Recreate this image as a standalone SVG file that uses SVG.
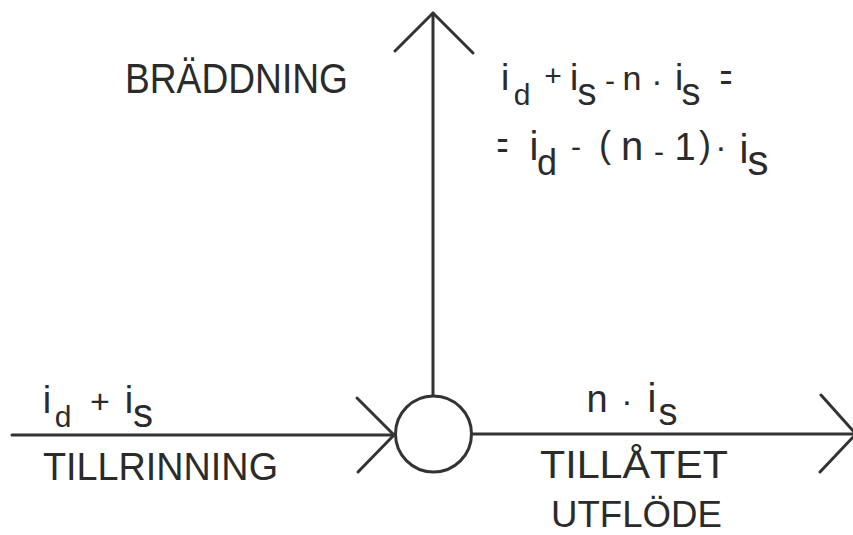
<svg xmlns="http://www.w3.org/2000/svg" width="853" height="535" viewBox="0 0 853 535">
<style>
.ln{fill:none;stroke:#333;stroke-width:3;stroke-linecap:round;stroke-linejoin:round}
text{font-family:"Liberation Sans",Arial,sans-serif;fill:#2b2b2b}
.c{text-anchor:middle}
</style>
<rect width="853" height="535" fill="#fff"/>
<g id="connectors">
<line class="ln" x1="12" y1="435" x2="395" y2="435"/>
<polyline class="ln" points="357,398 394,435 358,472"/>
<line class="ln" x1="433" y1="13" x2="433" y2="395"/>
<polyline class="ln" points="395,51 433,13 473,53"/>
<line class="ln" x1="472" y1="434" x2="853" y2="434"/>
<polyline class="ln" points="821,395 856,434 820,472"/>
</g>
<g id="node-junction">
<circle class="ln" cx="433.5" cy="434" r="38"/>
</g>
<g id="label-braddning">
<text x="125" y="93" font-size="42" textLength="223" lengthAdjust="spacingAndGlyphs">BRÄDDNING</text>
</g>
<g id="label-tillrinning">
<text x="43" y="480" font-size="39" textLength="235" lengthAdjust="spacingAndGlyphs">TILLRINNING</text>
<text class="c" x="47" y="413" font-size="38">i</text>
<text class="c" x="63" y="427" font-size="30">d</text>
<text class="c" x="100" y="413" font-size="34">+</text>
<text class="c" x="129" y="413" font-size="38">i</text>
<text class="c" x="143" y="427" font-size="40">s</text>
</g>
<g id="label-utflode">
<text x="540" y="478" font-size="39" textLength="188" lengthAdjust="spacingAndGlyphs">TILLÅTET</text>
<text x="551" y="527" font-size="36" textLength="171" lengthAdjust="spacingAndGlyphs">UTFLÖDE</text>
<text class="c" x="597" y="412" font-size="38">n</text>
<text class="c" x="627" y="412" font-size="34">·</text>
<text class="c" x="652" y="412" font-size="40">i</text>
<text class="c" x="668" y="425" font-size="38">s</text>
</g>
<g id="label-formula">
<text class="c" x="505" y="90" font-size="37">i</text>
<text class="c" x="522" y="105" font-size="30">d</text>
<text class="c" x="553" y="86" font-size="30">+</text>
<text class="c" x="574" y="90" font-size="37">i</text>
<text class="c" x="587" y="105" font-size="38">s</text>
<text class="c" x="610" y="91" font-size="30">-</text>
<text class="c" x="632" y="90" font-size="34">n</text>
<text class="c" x="657" y="92" font-size="34">·</text>
<text class="c" x="679" y="90" font-size="37">i</text>
<text class="c" x="691" y="105" font-size="38">s</text>
<text x="720" y="90.5" font-size="40" textLength="12" lengthAdjust="spacingAndGlyphs">=</text>
<text x="497" y="158.5" font-size="40" textLength="11" lengthAdjust="spacingAndGlyphs">=</text>
<text class="c" x="534" y="160" font-size="40">i</text>
<text class="c" x="547" y="175" font-size="36">d</text>
<text class="c" x="576" y="157" font-size="30">-</text>
<text class="c" x="605" y="157" font-size="36">(</text>
<text class="c" x="632" y="160" font-size="40">n</text>
<text class="c" x="659" y="162" font-size="30">-</text>
<text class="c" x="685" y="160" font-size="38">1</text>
<text class="c" x="705" y="157" font-size="36">)</text>
<text class="c" x="721" y="158" font-size="34">·</text>
<text class="c" x="744" y="163" font-size="40">i</text>
<text class="c" x="758" y="175" font-size="42">s</text>
</g>
</svg>
